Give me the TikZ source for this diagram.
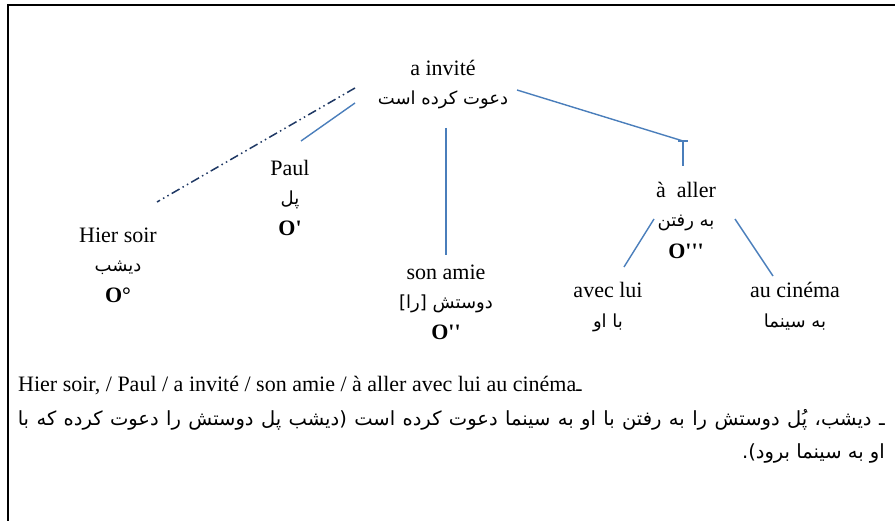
\documentclass[tikz,border=0pt]{standalone}
\usepackage{fontspec}
\setmainfont{Liberation Serif}
\newfontfamily\fa[Script=Arabic]{DejaVu Sans}
\newfontfamily\olabfont{Liberation Serif}
\TeXXeTstate=1
\definecolor{lineblue}{RGB}{74,126,187}
\definecolor{navyline}{RGB}{31,56,100}
\tikzset{
  lat/.style={font=\fontsize{22}{26}\selectfont, inner sep=0pt, anchor=base},
  per/.style={font=\fa\fontsize{18}{22}\selectfont, inner sep=0pt, anchor=base},
  perbig/.style={font=\fa\fontsize{19.5}{24}\selectfont, inner sep=0pt, anchor=base east},
  olab/.style={font=\olabfont\bfseries\fontsize{22}{26}\selectfont, inner sep=0pt, anchor=base},
  branch/.style={draw=lineblue, line width=1.4pt},
  dashbranch/.style={draw=navyline, line width=1.5pt, dash pattern=on 9pt off 3.5pt on 1.5pt off 3.5pt on 1.5pt off 3.5pt},
  framel/.style={draw=black, line width=1.8pt}
}
\begin{document}
\begin{tikzpicture}[x=1pt,y=-1pt]
\useasboundingbox (0,0) rectangle (895,521);
% frame
\coordinate (fbl) at (8,522);
\coordinate (ftl) at (8,5);
\coordinate (ftr) at (896,5);
\draw[framel] (fbl) -- (ftl) -- (ftr);

% root
\node[lat] (root) at (443,76) {a invité};
\node[per] (rootp) at (443,105) {\beginR دعوت کرده است\endR};

% Hier soir
\node[lat] (hier) at (118,243) {Hier soir};
\node[per] (hierp) at (118,272) {\beginR دیشب\endR};
\node[olab] (hiero) at (118,303) {O°};

% Paul
\node[lat] (paul) at (290,176) {Paul};
\node[per] (paulp) at (290,205) {\beginR پل\endR};
\node[olab] (paulo) at (290,236) {O'};

% son amie
\node[lat] (amie) at (446,280) {son amie};
\node[per] (amiep) at (446,309) {\beginR دوستش [را]\endR};
\node[olab] (amieo) at (446,340) {O''};

% a aller
\node[lat] (aller) at (686,198) {à\ \ aller};
\node[per] (allerp) at (686,227) {\beginR به رفتن\endR};
\node[olab] (allero) at (686,259) {O'''};

% avec lui
\node[lat] (avec) at (608,298) {avec lui};
\node[per] (avecp) at (608,328) {\beginR با او\endR};

% au cinema
\node[lat] (cine) at (795,298) {au cinéma};
\node[per] (cinep) at (795,328) {\beginR به سینما\endR};

% connector end points
\coordinate (d1) at (355,88);
\coordinate (d2) at (157,202);
\coordinate (b1) at (355,103);
\coordinate (b2) at (301,141);
\coordinate (v1) at (446,128);
\coordinate (v2) at (446,255);
\coordinate (r1) at (517,90);
\coordinate (r2) at (683,141);
\coordinate (t1) at (678,141);
\coordinate (t2) at (688,141);
\coordinate (r3) at (683,166);
\coordinate (l1) at (654,219);
\coordinate (l2) at (624,267);
\coordinate (m1) at (735,219);
\coordinate (m2) at (773,276);

\draw[dashbranch] (d1) -- (d2);
\draw[branch] (b1) -- (b2);
\draw[branch] (v1) -- (v2);
\draw[branch] (r1) -- (r2);
\draw[branch] (t1) -- (t2);
\draw[branch] (r2) -- (r3);
\draw[branch] (l1) -- (l2);
\draw[branch] (m1) -- (m2);

% bottom text
\node[lat, anchor=base west] (s1) at (18,392) {Hier soir, / Paul / a invité / son amie / à aller avec lui au cinéma{\fa\fontsize{18}{22}\selectfont ـ}};
\node[perbig] (s2) at (885,425) {\hbox to 867pt{\beginR ـ دیشب، پُل دوستش را به رفتن با او به سینما دعوت کرده است (دیشب پل دوستش را دعوت کرده که با\endR}};
\node[perbig] (s3) at (885,459) {\beginR او به سینما برود).\endR};
\end{tikzpicture}
\end{document}
